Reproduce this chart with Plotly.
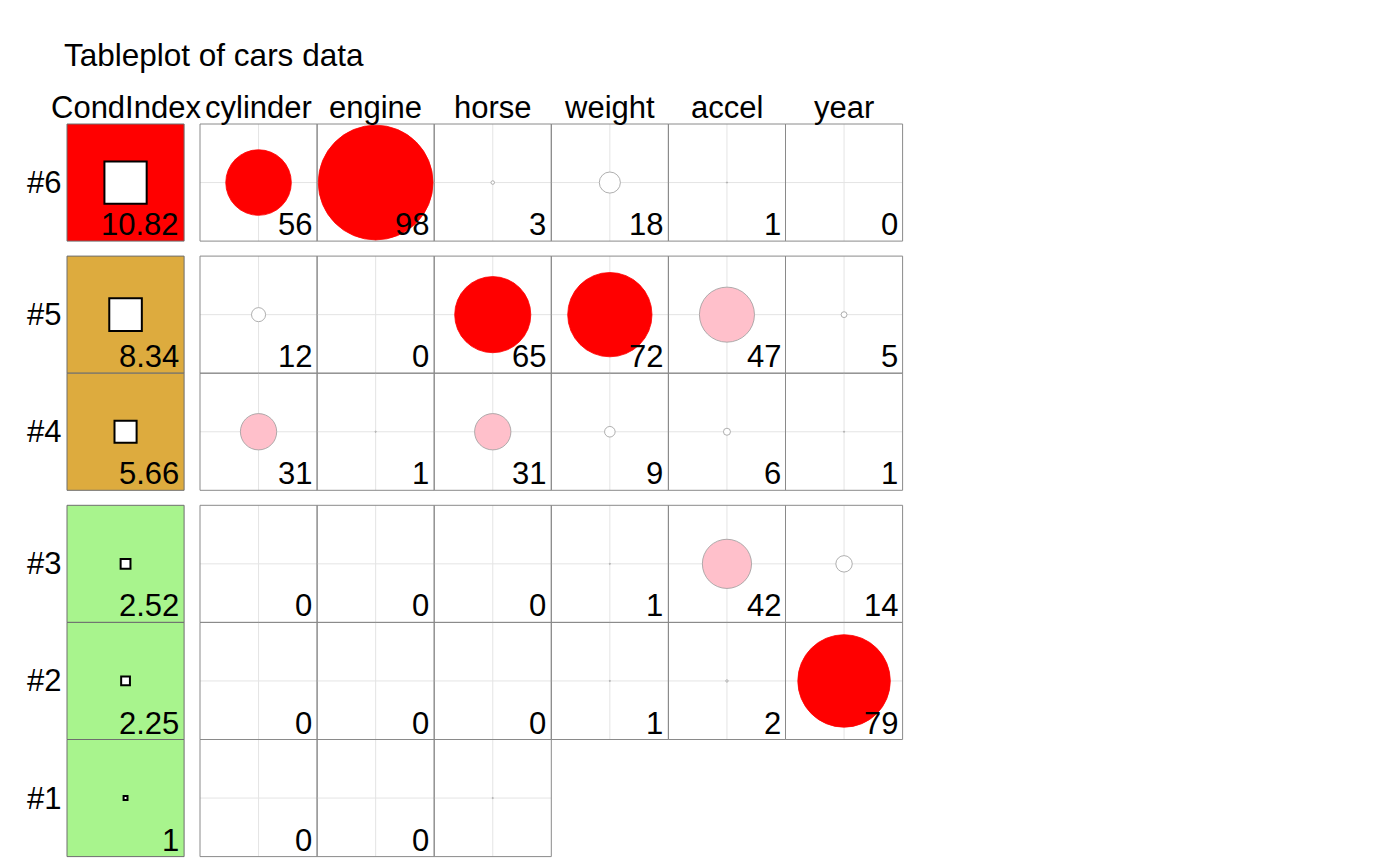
import plotly.graph_objects as go

# ---------------- data ----------------
title = "Tableplot of cars data"
cond_header = "CondIndex"
variables = ["cylinder", "engine", "horse", "weight", "accel", "year"]
row_labels = ["#6", "#5", "#4", "#3", "#2", "#1"]
cond_index = [10.82, 8.34, 5.66, 2.52, 2.25, 1]
cond_text = ["10.82", "8.34", "5.66", "2.52", "2.25", "1"]
# variance proportions (x100) per dimension; None = cell not shown
cylinder = [56, 12, 31, 0, 0, 0]
engine = [98, 0, 1, 0, 0, 0]
horse = [3, 65, 31, 0, 0, 1]
weight = [18, 72, 9, 1, 1, None]
accel = [1, 47, 6, 42, 2, None]
year = [0, 5, 1, 14, 79, None]
# (row index, variable) cells whose number is not printed
unlabeled = [(5, "horse")]

cond_cuts = [5, 10]
cond_colors = ["#A8F48D", "#DDAB3E", "#FF0000"]
prop_cuts = [20, 50]
prop_colors = ["#FFFFFF", "#FFC0CB", "#FF0000"]
prop_lines = ["#9A9A9A", "#9A9A9A", "#FF0000"]

props = {"cylinder": cylinder, "engine": engine, "horse": horse,
         "weight": weight, "accel": accel, "year": year}

# ---------------- layout constants ----------------
W, H = 1400, 866
CELL = 117.1
GAP = 15
X_COND = 67
X_VAR = 200
Y_TOP = 124
FONT = "Liberation Sans, Arial, sans-serif"
FS = 31
BORDER = "#8A8A8A"
GRID = "#E4E4E4"


def cat(v, cuts):
    k = 0
    for c in cuts:
        if v >= c:
            k += 1
    return k


# row tops: gaps where condition-index category changes
row_top = []
gaps = 0
prev = None
for i, ci in enumerate(cond_index):
    c = cat(ci, cond_cuts)
    if prev is not None and c != prev:
        gaps += 1
    prev = c
    row_top.append(Y_TOP + i * CELL + gaps * GAP)

shapes = []
annotations = []

# title
annotations.append(dict(x=X_COND - 5, y=55, xref="x", yref="y", text=title,
                        xanchor="left", yanchor="middle", showarrow=False,
                        font=dict(family=FONT, size=31.5, color="black")))
# headers
annotations.append(dict(x=X_COND + CELL / 2, y=107, text=cond_header,
                        xanchor="center", yanchor="middle", showarrow=False,
                        font=dict(family=FONT, size=FS, color="black")))
for j, v in enumerate(variables):
    annotations.append(dict(x=X_VAR + (j + 0.5) * CELL, y=107, text=v,
                            xanchor="center", yanchor="middle", showarrow=False,
                            font=dict(family=FONT, size=FS, color="black")))

# condition index column
sq_x, sq_y, sq_s = [], [], []
for i, ci in enumerate(cond_index):
    y0 = row_top[i]
    shapes.append(dict(type="rect", x0=X_COND, x1=X_COND + CELL, y0=y0, y1=y0 + CELL,
                       fillcolor=cond_colors[cat(ci, cond_cuts)],
                       line=dict(color="#6E6E6E", width=1), layer="below"))
    sq_x.append(X_COND + CELL / 2)
    sq_y.append(y0 + CELL / 2)
    sq_s.append(ci / 30 * CELL)
    annotations.append(dict(x=X_COND + CELL - 3, y=y0 + CELL, text=cond_text[i],
                            xanchor="right", yanchor="bottom", yshift=-3,
                            showarrow=False,
                            font=dict(family=FONT, size=FS, color="black")))
    annotations.append(dict(x=X_COND - 4, y=y0 + CELL / 2, text=row_labels[i],
                            xanchor="right", yanchor="middle", showarrow=False,
                            font=dict(family=FONT, size=FS, color="black")))

# variable cells
cx, cy, cs, cf, cl = [], [], [], [], []
for j, v in enumerate(variables):
    vals = props[v]
    for i, p in enumerate(vals):
        if p is None:
            continue
        x0 = X_VAR + j * CELL
        y0 = row_top[i]
        xc, yc = x0 + CELL / 2, y0 + CELL / 2
        shapes.append(dict(type="line", x0=x0, x1=x0 + CELL, y0=yc, y1=yc,
                           line=dict(color=GRID, width=1), layer="below"))
        shapes.append(dict(type="line", x0=xc, x1=xc, y0=y0, y1=y0 + CELL,
                           line=dict(color=GRID, width=1), layer="below"))
        shapes.append(dict(type="rect", x0=x0, x1=x0 + CELL, y0=y0, y1=y0 + CELL,
                           fillcolor="rgba(0,0,0,0)",
                           line=dict(color=BORDER, width=1), layer="below"))
        k = cat(p, prop_cuts)
        cx.append(xc)
        cy.append(yc)
        cs.append(p / 100 * CELL)
        cf.append(prop_colors[k])
        cl.append(prop_lines[k])
        if (i, v) not in unlabeled:
            annotations.append(dict(x=x0 + CELL - 3, y=y0 + CELL, text=str(p),
                                    xanchor="right", yanchor="bottom", yshift=-3,
                                    showarrow=False,
                                    font=dict(family=FONT, size=FS, color="black")))

fig = go.Figure()
fig.add_trace(go.Scatter(x=cx, y=cy, mode="markers", hoverinfo="skip",
                         marker=dict(symbol="circle", size=cs, color=cf, opacity=1,
                                     line=dict(color=cl, width=0.8)),
                         showlegend=False))
fig.add_trace(go.Scatter(x=sq_x, y=sq_y, mode="markers", hoverinfo="skip",
                         marker=dict(symbol="square", size=sq_s, color="white", opacity=1,
                                     line=dict(color="black", width=2)),
                         showlegend=False))

fig.update_layout(
    width=W, height=H,
    margin=dict(l=0, r=0, t=0, b=0),
    paper_bgcolor="white", plot_bgcolor="white",
    xaxis=dict(range=[0, W], visible=False, fixedrange=True),
    yaxis=dict(range=[H, 0], visible=False, fixedrange=True),
    shapes=shapes, annotations=annotations,
    showlegend=False,
)
fig.write_html("out.html")
